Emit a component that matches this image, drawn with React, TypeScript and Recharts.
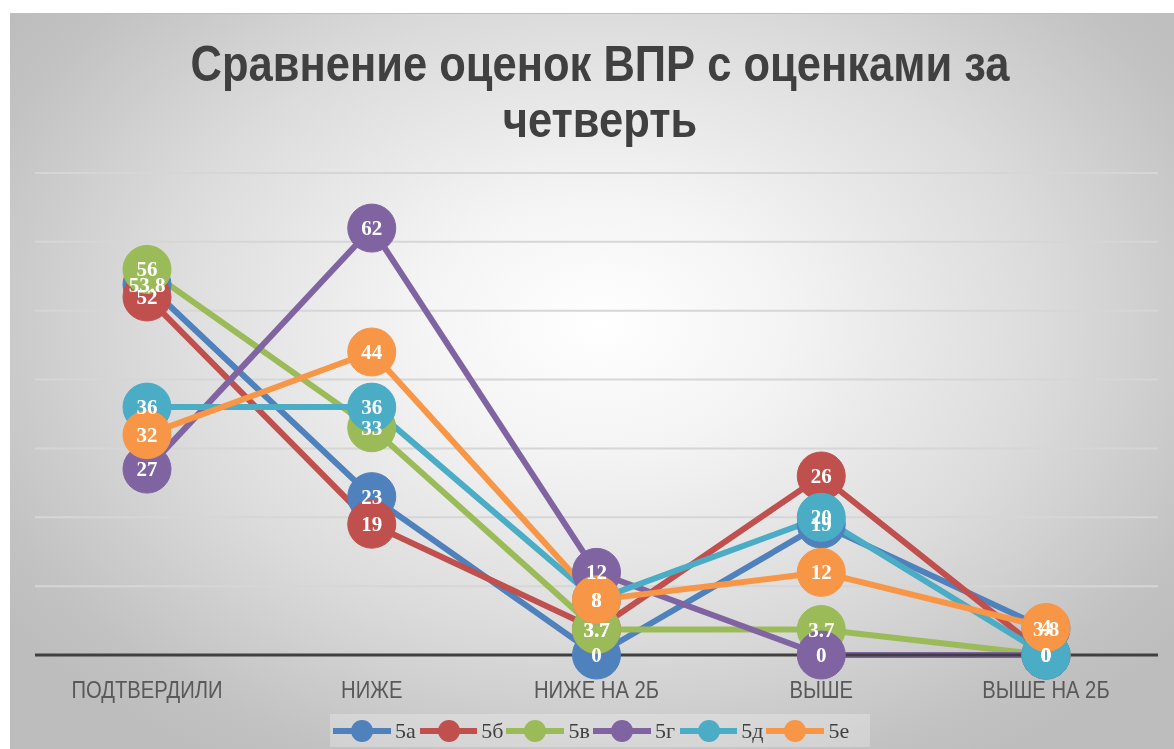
import React from 'react';
import { LineChart, Line, XAxis, YAxis, CartesianGrid, LabelList } from 'recharts';

const categories = ['ПОДТВЕРДИЛИ', 'НИЖЕ', 'НИЖЕ НА 2Б', 'ВЫШЕ', 'ВЫШЕ НА 2Б'];
const s5a = [53.8, 23, 0, 19, 3.8];
const s5b = [52, 19, 3.7, 26, 0];
const s5v = [56, 33, 3.7, 3.7, 0];
const s5g = [27, 62, 12, 0, 0];
const s5d = [36, 36, 8, 20, 0];
const s5e = [32, 44, 8, 12, 4];
const yTicks = [0, 10, 20, 30, 40, 50, 60, 70];

const series = [
  { key: 's5a', name: '5а', color: '#4f81bd', values: s5a },
  { key: 's5b', name: '5б', color: '#c0504d', values: s5b },
  { key: 's5v', name: '5в', color: '#9bbb59', values: s5v },
  { key: 's5g', name: '5г', color: '#8064a2', values: s5g },
  { key: 's5d', name: '5д', color: '#4bacc6', values: s5d },
  { key: 's5e', name: '5е', color: '#f79646', values: s5e },
];

const data = categories.map((name, i) => {
  const row: Record<string, any> = { name };
  series.forEach((s) => (row[s.key] = s.values[i]));
  return row;
});

const sans = "'Liberation Sans', Arial, sans-serif";
const serif = "'Liberation Serif', 'DejaVu Serif', serif";

const renderLabel = (props: any) => {
  const { x, y, value } = props;
  if (x == null || y == null) return null;
  return (
    <text
      x={x}
      y={y}
      textAnchor="middle"
      dominantBaseline="central"
      fill="#ffffff"
      fontFamily={serif}
      fontWeight="bold"
      fontSize={21}
    >
      {value}
    </text>
  );
};

const CategoryTick = (props: any) => {
  const { x, y, payload } = props;
  return (
    <text
      x={x}
      y={y + 27}
      textAnchor="middle"
      dominantBaseline="central"
      fill="#595959"
      fontFamily={sans}
      fontSize={23}
      transform={`translate(${x} 0) scale(0.88 1) translate(${-x} 0)`}
    >
      {payload.value}
    </text>
  );
};

const LegendRow = () => (
  <div
    style={{
      position: 'absolute',
      left: 320,
      top: 700,
      width: 540,
      height: 33,
      background: 'rgba(255,255,255,0.25)',
      display: 'flex',
      alignItems: 'center',
    }}
  >
    {series.map((s) => (
      <div key={s.key} style={{ display: 'flex', alignItems: 'center', width: 86.7 }}>
        <svg width={58} height={24} style={{ marginLeft: 3 }}>
          <line x1={0} y1={12} x2={58} y2={12} stroke={s.color} strokeWidth={6} />
          <circle cx={29} cy={12} r={11} fill={s.color} />
        </svg>
        <span
          style={{
            fontFamily: serif,
            fontSize: 22,
            color: '#404040',
            marginLeft: 4,
            lineHeight: '24px',
          }}
        >
          {s.name}
        </span>
      </div>
    ))}
  </div>
);

export default function App() {
  return (
    <div
      style={{
        position: 'fixed',
        left: 10,
        top: 13,
        width: 1180,
        height: 736,
        overflow: 'hidden',
        borderTop: '1px solid #bfbfbf',
        background:
          'radial-gradient(ellipse 62% 70% at 50% 42%, #ffffff 0%, #f4f4f4 25%, #dcdcdc 60%, #c2c2c2 90%, #bdbdbd 100%)',
      }}
    >
      <div
        style={{
          position: 'absolute',
          left: 0,
          top: 22,
          width: 1180,
          textAlign: 'center',
          fontFamily: sans,
          fontWeight: 'bold',
          fontSize: 50,
          lineHeight: '56px',
          color: '#404040',
          transform: 'scaleX(0.87)',
          transformOrigin: '590px 0',
        }}
      >
        Сравнение оценок ВПР с оценками за
        <br />
        четверть
      </div>
      <div style={{ position: 'absolute', left: 0, top: 0 }}>
        <LineChart
          width={1164}
          height={736}
          data={data}
          margin={{ top: 159, right: 16, bottom: 65, left: 25 }}
        >
          <CartesianGrid vertical={false} stroke="#d6d6d6" strokeWidth={2} />
          <XAxis
            dataKey="name"
            padding={{ left: 112, right: 112 }}
            axisLine={{ stroke: '#404040', strokeWidth: 3 }}
            tickLine={false}
            tick={<CategoryTick />}
            interval={0}
          />
          <YAxis hide domain={[0, 70]} ticks={yTicks} />
          {series.map((s) => (
            <Line
              key={s.key}
              dataKey={s.key}
              name={s.name}
              type="linear"
              stroke={s.color}
              strokeWidth={6}
              dot={{ r: 24, fill: s.color, stroke: s.color, strokeWidth: 1 }}
              activeDot={false}
              isAnimationActive={false}
            />
          ))}
          {series.map((s) => (
            <Line
              key={s.key + '-lbl'}
              dataKey={s.key}
              stroke="none"
              dot={false}
              activeDot={false}
              legendType="none"
              isAnimationActive={false}
            >
              <LabelList dataKey={s.key} content={renderLabel} />
            </Line>
          ))}
        </LineChart>
      </div>
      <LegendRow />
    </div>
  );
}
